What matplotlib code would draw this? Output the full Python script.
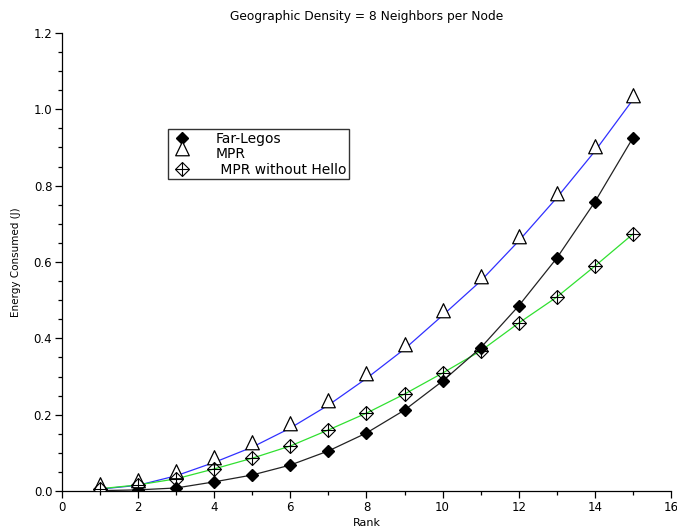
import matplotlib
matplotlib.use("Agg")
import matplotlib.pyplot as plt
from matplotlib.lines import Line2D
from matplotlib.path import Path
from matplotlib.ticker import MultipleLocator

plt.rcParams['font.family'] = ['DejaVu Sans']

# data
rank = [1, 2, 3, 4, 5, 6, 7, 8, 9, 10, 11, 12, 13, 14, 15]
far_legos = [0.001, 0.003, 0.008, 0.024, 0.042, 0.068, 0.105, 0.152, 0.212,
             0.288, 0.375, 0.485, 0.61, 0.757, 0.925]
mpr = [0.005, 0.015, 0.04, 0.075, 0.115, 0.165, 0.225, 0.295, 0.372,
       0.46, 0.55, 0.655, 0.768, 0.89, 1.025]
mpr_no_hello = [0.006, 0.016, 0.032, 0.058, 0.086, 0.118, 0.16, 0.204, 0.254,
                0.309, 0.367, 0.44, 0.508, 0.589, 0.673]

# triangle whose base sits just under the data point (like scilab)
tri = Path([(0, 2.6), (-1.5, -0.5), (1.5, -0.5), (0, 2.6)],
           [Path.MOVETO, Path.LINETO, Path.LINETO, Path.CLOSEPOLY])

fig = plt.figure(figsize=(6.77, 5.31), dpi=100)
ax = fig.add_axes([0.0916, 0.0753, 0.8994, 0.8626])

ax.plot(rank, mpr, color='#3030ff', linewidth=0.9, zorder=2)
ax.plot(rank, mpr_no_hello, color='#30e030', linewidth=0.9, zorder=2)
ax.plot(rank, far_legos, color='#222222', linewidth=0.9, zorder=2)

ax.plot(rank, far_legos, linestyle='none', marker='D', markersize=6,
        markerfacecolor='black', markeredgecolor='black', zorder=3)
ax.plot(rank, mpr, linestyle='none', marker=tri, markersize=17,
        markerfacecolor='white', markeredgecolor='black', markeredgewidth=0.9,
        zorder=3)
ax.plot(rank, mpr_no_hello, linestyle='none', marker='D', markersize=6.8,
        markerfacecolor='none', markeredgecolor='black', markeredgewidth=0.8,
        zorder=3)
ax.plot(rank, mpr_no_hello, linestyle='none', marker='+', markersize=9.5,
        markeredgecolor='black', markeredgewidth=0.8, zorder=3)

ax.set_xlim(0, 16)
ax.set_ylim(0, 1.2)
ax.xaxis.set_major_locator(MultipleLocator(2))
ax.xaxis.set_minor_locator(MultipleLocator(1))
ax.yaxis.set_major_locator(MultipleLocator(0.2))
ax.yaxis.set_minor_locator(MultipleLocator(0.05))
ax.set_yticks([0, 0.2, 0.4, 0.6, 0.8, 1.0, 1.2])
ax.set_yticklabels(['0.0', '0.2', '0.4', '0.6', '0.8', '1.0', '1.2'])
ax.tick_params(which='major', direction='out', length=5, width=0.9,
               labelsize=8.5, pad=2)
ax.tick_params(which='minor', direction='out', length=3, width=0.9)

ax.spines['top'].set_visible(False)
ax.spines['right'].set_visible(False)
ax.spines['left'].set_linewidth(0.9)
ax.spines['bottom'].set_linewidth(0.9)

ax.set_title('Geographic Density = 8 Neighbors per Node', fontsize=8.8, pad=9)
ax.set_xlabel('Rank', fontsize=8, labelpad=3)
ax.set_ylabel('Energy Consumed (J)', fontsize=7.5, labelpad=9)

h1 = Line2D([], [], linestyle='none', marker='D', markersize=6,
            markerfacecolor='black', markeredgecolor='black')
h2 = Line2D([], [], linestyle='none', marker=tri, markersize=17,
            markerfacecolor='white', markeredgecolor='black', markeredgewidth=0.9)
h3a = Line2D([], [], linestyle='none', marker='D', markersize=6.8,
             markerfacecolor='none', markeredgecolor='black', markeredgewidth=0.8)
h3b = Line2D([], [], linestyle='none', marker='+', markersize=9.5,
             markeredgecolor='black', markeredgewidth=0.8)
leg = ax.legend([h1, h2, (h3a, h3b)], ['Far-Legos', 'MPR', ' MPR without Hello'],
                loc='upper left', bbox_to_anchor=(0.174, 0.79), fontsize=10,
                frameon=True, fancybox=False, edgecolor='black',
                borderpad=0.2, labelspacing=0.1, handlelength=1.6,
                handletextpad=1.65, borderaxespad=0)
leg.get_frame().set_linewidth(1.0)

fig.savefig('out.png', dpi=100)
